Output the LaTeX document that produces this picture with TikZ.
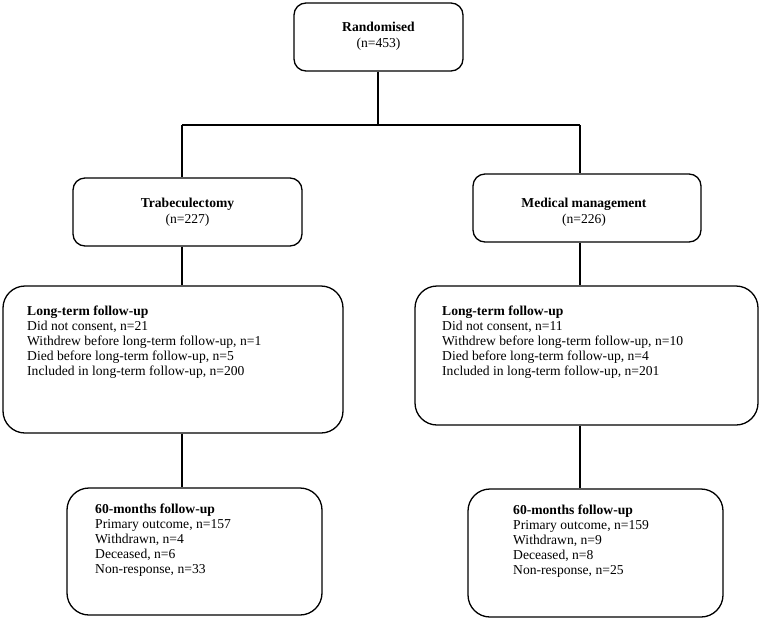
\documentclass[tikz,border=0pt]{standalone}
\usepackage{fontspec}
\setmainfont{Liberation Serif}
\begin{document}
\begin{tikzpicture}[x=1pt,y=-1pt,
  box/.style={draw, line width=1.3pt, inner sep=0pt},
  smallr/.style={rounded corners=12pt},
  bigr/.style={rounded corners=22pt},
  txt/.style={anchor=base west, inner sep=0pt, font=\fontsize{13.6}{15}\selectfont},
  ctxt/.style={anchor=base, inner sep=0pt, font=\fontsize{13.6}{15}\selectfont},
  conn/.style={line width=1.3pt}]
\useasboundingbox (0,0) rectangle (761,619);
% boxes
\node[box, smallr, minimum width=169pt, minimum height=68pt] (rand) at (378.5,37) {};
\node[box, smallr, minimum width=229pt, minimum height=68pt] (trab) at (187.5,212) {};
\node[box, smallr, minimum width=228pt, minimum height=68pt] (med) at (587,208) {};
\node[box, bigr, minimum width=340pt, minimum height=147pt] (ltl) at (173,359.5) {};
\node[box, bigr, minimum width=343pt, minimum height=139pt] (ltr) at (586.5,355.5) {};
\node[box, bigr, minimum width=255pt, minimum height=127pt] (fl) at (194.5,551.5) {};
\node[box, bigr, minimum width=255pt, minimum height=128pt] (fr) at (595.5,553) {};
% texts
\node[ctxt] (t1a) at (378.5,31) {\bfseries Randomised};
\node[ctxt] (t1b) at (378.5,47) {(n=453)};
\node[ctxt] (t2a) at (187.5,207) {\bfseries Trabeculectomy};
\node[ctxt] (t2b) at (187.5,223) {(n=227)};
\node[ctxt] (t3a) at (584,207) {\bfseries Medical management};
\node[ctxt] (t3b) at (584,223) {(n=226)};
\node[txt] (l1) at (27,315) {\bfseries Long-term follow-up};
\node[txt] (l2) at (27,330) {Did not consent, n=21};
\node[txt] (l3) at (27,345) {Withdrew before long-term follow-up, n=1};
\node[txt] (l4) at (27,360) {Died before long-term follow-up, n=5};
\node[txt] (l5) at (27,375) {Included in long-term follow-up, n=200};
\node[txt] (r1) at (442,315) {\bfseries Long-term follow-up};
\node[txt] (r2) at (442,330) {Did not consent, n=11};
\node[txt] (r3) at (442,345) {Withdrew before long-term follow-up, n=10};
\node[txt] (r4) at (442,360) {Died before long-term follow-up, n=4};
\node[txt] (r5) at (442,375) {Included in long-term follow-up, n=201};
\node[txt] (fl1) at (95,513) {\bfseries 60-months follow-up};
\node[txt] (fl2) at (95,528) {Primary outcome, n=157};
\node[txt] (fl3) at (95,543) {Withdrawn, n=4};
\node[txt] (fl4) at (95,558) {Deceased, n=6};
\node[txt] (fl5) at (95,573) {Non-response, n=33};
\node[txt] (fr1) at (513,514) {\bfseries 60-months follow-up};
\node[txt] (fr2) at (513,529) {Primary outcome, n=159};
\node[txt] (fr3) at (513,544) {Withdrawn, n=9};
\node[txt] (fr4) at (513,559) {Deceased, n=8};
\node[txt] (fr5) at (513,574) {Non-response, n=25};
% connectors
\coordinate (jt) at (378,125);
\coordinate (jl) at (182,125);
\coordinate (jr) at (580,125);
\draw[conn] (rand.south -| jt) -- (jt);
\draw[conn] (jl) -- (jr);
\draw[conn] (jl) -- (jl |- trab.north);
\draw[conn] (jr) -- (jr |- med.north);
\draw[conn] (trab.south -| jl) -- (ltl.north -| jl);
\draw[conn] (med.south -| jr) -- (ltr.north -| jr);
\draw[conn] (ltl.south -| jl) -- (fl.north -| jl);
\draw[conn] (ltr.south -| jr) -- (fr.north -| jr);
\end{tikzpicture}
\end{document}
